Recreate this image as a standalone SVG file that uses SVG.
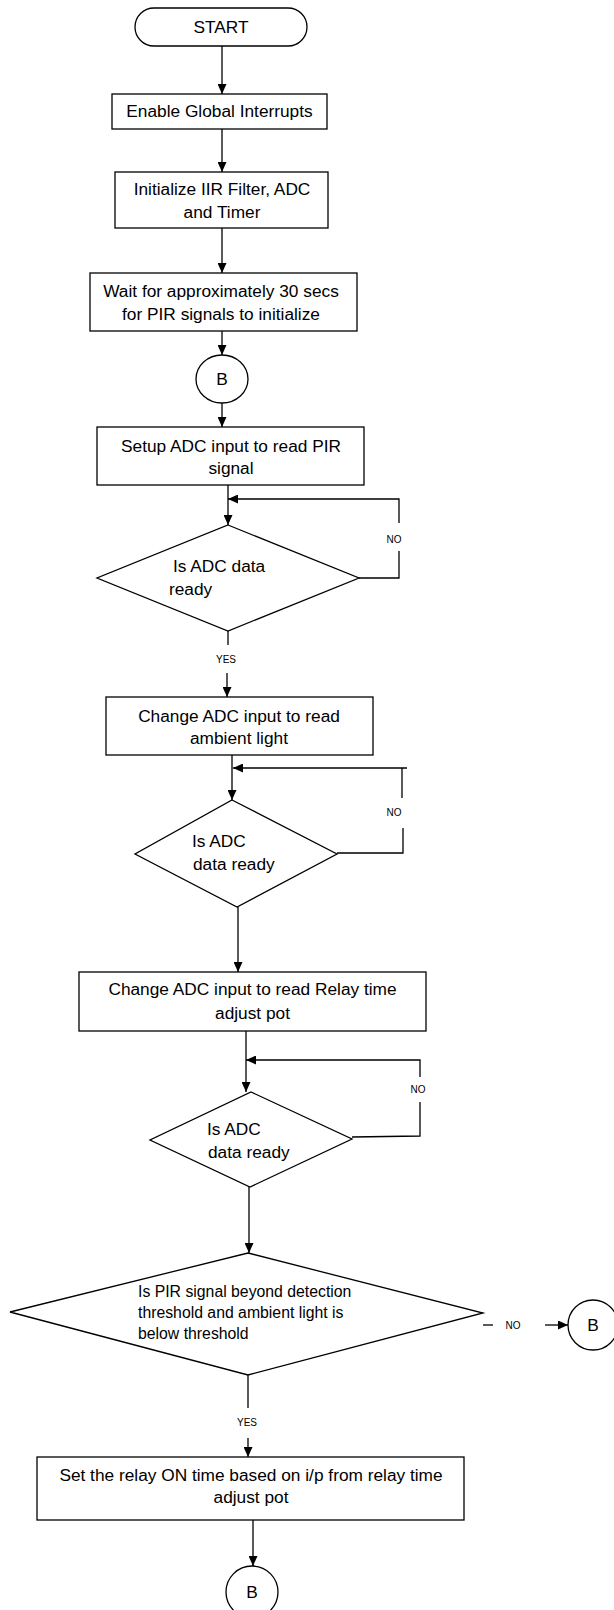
<svg xmlns="http://www.w3.org/2000/svg" width="614" height="1610" viewBox="0 0 614 1610">
<style>
.s{fill:#fff;stroke:#000;stroke-width:1.3}
.t{font-family:"Liberation Sans",Arial,sans-serif;font-size:17.3px;fill:#000}
.c{text-anchor:middle}
.sm{font-family:"Liberation Sans",Arial,sans-serif;font-size:10px;fill:#000;text-anchor:middle}
.w{font-size:15.8px}
.l{fill:none;stroke:#000;stroke-width:1.3}
</style>
<defs>
<marker id="a" viewBox="0 0 10 9" markerUnits="userSpaceOnUse" markerWidth="10" markerHeight="9" refX="10" refY="4.5" orient="auto">
<path d="M0,0 L10,4.5 L0,9 z" fill="#000"/>
</marker>
</defs>
<rect width="614" height="1610" fill="#fff"/>
<g id="connectors">
<line class="l" x1="222" y1="46" x2="222" y2="94" marker-end="url(#a)"/>
<line class="l" x1="222" y1="129" x2="222" y2="172" marker-end="url(#a)"/>
<line class="l" x1="222" y1="228" x2="222" y2="273" marker-end="url(#a)"/>
<line class="l" x1="222" y1="331" x2="222" y2="355" marker-end="url(#a)"/>
<line class="l" x1="222" y1="403" x2="222" y2="427" marker-end="url(#a)"/>
<line class="l" x1="228" y1="485" x2="228" y2="525" marker-end="url(#a)"/>
<polyline class="l" points="359,578 399,578 399,551"/>
<polyline class="l" points="399,523 399,499 228,499" marker-end="url(#a)"/>
<text class="sm" x="394" y="543">NO</text>
<line class="l" x1="228" y1="631" x2="228" y2="645"/>
<text class="sm" x="226" y="663">YES</text>
<line class="l" x1="227" y1="673" x2="227" y2="697" marker-end="url(#a)"/>
<line class="l" x1="232" y1="755" x2="232" y2="800" marker-end="url(#a)"/>
<polyline class="l" points="337,853 403,853 403,828"/>
<line class="l" x1="402" y1="798" x2="402" y2="768"/>
<line class="l" x1="407" y1="768" x2="233" y2="768" marker-end="url(#a)"/>
<text class="sm" x="394" y="816">NO</text>
<line class="l" x1="238" y1="907" x2="238" y2="972" marker-end="url(#a)"/>
<line class="l" x1="246" y1="1031" x2="246" y2="1092" marker-end="url(#a)"/>
<polyline class="l" points="352,1137 420,1136 420,1102"/>
<polyline class="l" points="420,1077 420,1060 246,1060" marker-end="url(#a)"/>
<text class="sm" x="418" y="1093">NO</text>
<line class="l" x1="249" y1="1187" x2="249" y2="1253" marker-end="url(#a)"/>
<line class="l" x1="483" y1="1325" x2="493" y2="1325"/>
<text class="sm" x="513" y="1329">NO</text>
<line class="l" x1="545" y1="1325" x2="568" y2="1325" marker-end="url(#a)"/>
<line class="l" x1="248" y1="1375" x2="248" y2="1408"/>
<text class="sm" x="247" y="1426">YES</text>
<line class="l" x1="248" y1="1438" x2="248" y2="1457" marker-end="url(#a)"/>
<line class="l" x1="253" y1="1520" x2="253" y2="1566" marker-end="url(#a)"/>
</g>
<g id="start">
<rect class="s" x="135" y="8" width="172" height="38" rx="19"/>
<text class="t c" x="221" y="33">START</text>
</g>
<g id="enable">
<rect class="s" x="112" y="94" width="215" height="35"/>
<text class="t c" x="219.5" y="117">Enable Global Interrupts</text>
</g>
<g id="init">
<rect class="s" x="115" y="172" width="213" height="56"/>
<text class="t c" x="222" y="195">Initialize IIR Filter, ADC</text>
<text class="t c" x="222" y="218">and Timer</text>
</g>
<g id="wait">
<rect class="s" x="90" y="273" width="267" height="58"/>
<text class="t c" x="221" y="297">Wait for approximately 30 secs</text>
<text class="t c" x="221" y="320">for PIR signals to initialize</text>
</g>
<g id="b1">
<ellipse class="s" cx="222" cy="379" rx="26" ry="24"/>
<text class="t c" x="222" y="385">B</text>
</g>
<g id="setup">
<rect class="s" x="97" y="427" width="267" height="58"/>
<text class="t c" x="231" y="452">Setup ADC input to read PIR</text>
<text class="t c" x="231" y="474">signal</text>
</g>
<g id="d1">
<polygon class="s" points="228,525 359,578 228,631 97,578"/>
<text class="t" x="173" y="572">Is ADC data</text>
<text class="t" x="169" y="595">ready</text>
</g>
<g id="ambient">
<rect class="s" x="106" y="697" width="267" height="58"/>
<text class="t c" x="239" y="722">Change ADC input to read</text>
<text class="t c" x="239" y="744">ambient light</text>
</g>
<g id="d2">
<polygon class="s" points="232,800 337,854 237,907 135,854"/>
<text class="t" x="192" y="847">Is ADC</text>
<text class="t" x="193" y="870">data ready</text>
</g>
<g id="relay">
<rect class="s" x="79" y="972" width="347" height="59"/>
<text class="t c" x="252.5" y="995">Change ADC input to read Relay time</text>
<text class="t c" x="252.5" y="1019">adjust pot</text>
</g>
<g id="d3">
<polygon class="s" points="251,1092 352,1139 250,1187 150,1140"/>
<text class="t" x="207" y="1135">Is ADC</text>
<text class="t" x="208" y="1158">data ready</text>
</g>
<g id="d4">
<polygon class="s" points="248,1253 483,1313 248,1375 10,1312"/>
<text class="t w" x="138" y="1297">Is PIR signal beyond detection</text>
<text class="t w" x="138" y="1318">threshold and ambient light is</text>
<text class="t w" x="138" y="1339">below threshold</text>
</g>
<g id="b2">
<circle class="s" cx="593" cy="1325" r="25"/>
<text class="t c" x="593" y="1331">B</text>
</g>
<g id="relayon">
<rect class="s" x="37" y="1457" width="427" height="63"/>
<text class="t c" x="251" y="1481">Set the relay ON time based on i/p from relay time</text>
<text class="t c" x="251" y="1503">adjust pot</text>
</g>
<g id="b3">
<circle class="s" cx="252" cy="1592" r="26"/>
<text class="t c" x="252" y="1598">B</text>
</g>
</svg>
